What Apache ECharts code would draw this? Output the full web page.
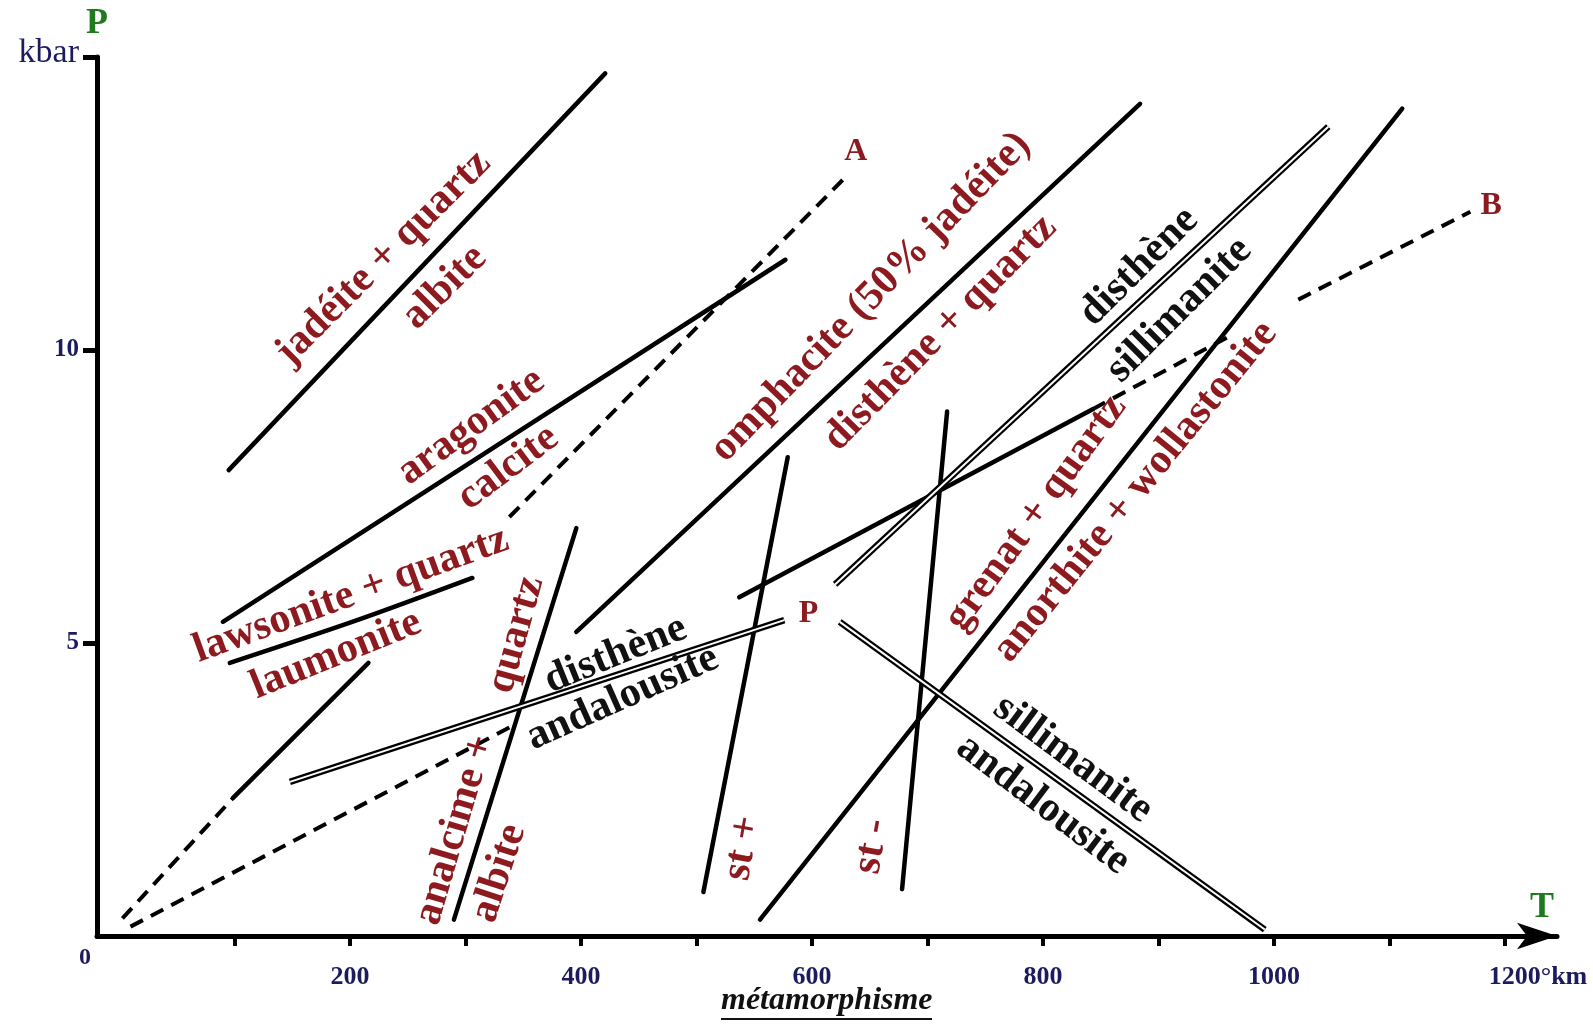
<!DOCTYPE html>
<html><head><meta charset="utf-8">
<script src="https://cdn.jsdelivr.net/npm/echarts@6/dist/echarts.min.js"></script>
<style>html,body{margin:0;padding:0;background:#fff}#c{width:1593px;height:1035px}</style>
</head><body><div id="c"></div>
<script>
// ---- axis ticks / labels ----
const xTickValues = [100,200,300,400,500,600,700,800,900,1000,1100,1200];
const xLabelValues = [200,400,600,800,1000,1200];
const yTickValues = [5,10,15];

// ---- reaction curves [T (°C), P (kbar)] ----
const jadeiteAlbite      = [[95,7.95],[421,14.72]];
const aragoniteCalcite   = [[90,5.36],[577,11.54]];
const lineA              = [[338,7.15],[631,12.99]];
const lawsoniteLaumonite = [[96,4.66],[205,5.38],[306,6.11]];
const laumoniteDashed    = [[3,0.30],[99,2.36]];
const laumoniteSolid     = [[99,2.36],[216,4.66]];
const lowDashed          = [[10,0.16],[341,3.59]];
const analcimeAlbite     = [[290,0.28],[396,6.96]];
const disAnd             = [[148,2.63],[576,5.39]];
const omphacite          = [[396,5.19],[884,14.20]];
const stPlus             = [[506,0.75],[579,8.17]];
const grenatAnorthite    = [[555,0.28],[1111,14.12]];
const stMinus            = [[678,0.80],[717,8.95]];
const disSil             = [[620,6.00],[1047,13.81]];
const silAnd             = [[624,5.36],[992,0.11]];
const lineBsolid         = [[537,5.78],[843,8.99]];
const lineBdash1         = [[843,8.99],[962,10.24]];
const lineBdash2         = [[1021,10.86],[1170,12.36]];

// ---- annotations: text, [T, P], angle ----
const redLabels = [
  ['jadéite + quartz', [229,11.57], 45],
  ['albite', [282,11.07], 45],
  ['aragonite', [305,8.69], 36],
  ['calcite', [337,7.99], 37],
  ['lawsonite + quartz', [201,5.82], 20],
  ['laumonite', [188,4.80], 22],
  ['omphacite (50% jadéite)', [651,10.90], 46],
  ['disthène + quartz', [711,10.29], 45.5],
  ['grenat + quartz', [794,7.22], 54],
  ['anorthite + wollastonite', [880,7.58], 51],
  ['analcime +', [291,1.81], 73.5],
  ['quartz', [344,5.14], 74.5],
  ['albite', [329,1.07], 72],
  ['st +', [540,1.50], 80],
  ['st -', [652,1.53], 80]
];
const blackLabels = [
  ['disthène', [883,11.42], 45],
  ['sillimanite', [918,10.68], 45],
  ['disthène', [430,4.80], 22],
  ['andalousite', [436,4.06], 24],
  ['sillimanite', [826,3.02], -36.5],
  ['andalousite', [800,2.24], -37]
];
const pointLabels = [
  ['A', [638,13.38]],
  ['B', [1188,12.46]],
  ['P', [597,5.50]]
];

const SERIF = "'Liberation Serif','Times New Roman',serif";
const RED = '#8c1a1e';
const NAVY = '#1b1b5e';
const GREEN = '#1f7a1f';

function solid(data, smooth){
  return {type:'line', data, symbol:'none', smooth: smooth||false, silent:true, z:3,
    lineStyle:{color:'#000', width:4.5, cap:'round'}};
}
function dashed(data){
  return {type:'line', data, symbol:'none', silent:true, z:3,
    lineStyle:{color:'#000', width:4, type:[14,9]}};
}
function double(data){
  return [
    {type:'line', data, symbol:'none', silent:true, z:3, lineStyle:{color:'#000', width:6.5}},
    {type:'line', data, symbol:'none', silent:true, z:4, lineStyle:{color:'#fff', width:2}}
  ];
}
function labelSeries(list, color, size){
  return {type:'scatter', symbolSize:1, silent:true, z:10,
    itemStyle:{color:'transparent', opacity:1},
    data: list.map(l => ({value:l[1], label:{formatter:l[0], rotate:l[2]||0}})),
    label:{show:true, position:'inside', color, opacity:1, textBorderWidth:0,
      fontFamily:SERIF, fontWeight:'bold',
      fontSize:size, align:'center', verticalAlign:'middle'}};
}

const series = [
  solid(jadeiteAlbite), solid(aragoniteCalcite), dashed(lineA),
  solid(lawsoniteLaumonite, 0.3), dashed(laumoniteDashed), solid(laumoniteSolid),
  dashed(lowDashed), solid(analcimeAlbite), ...double(disAnd), solid(omphacite),
  solid(stPlus), solid(grenatAnorthite), solid(stMinus), ...double(disSil), ...double(silAnd),
  solid(lineBsolid), dashed(lineBdash1), dashed(lineBdash2),
  labelSeries(redLabels, RED, 42),
  labelSeries(blackLabels, '#111', 42),
  labelSeries(pointLabels, RED, 32)
];

const chart = echarts.init(document.getElementById('c'));
chart.setOption({
  animation:false,
  backgroundColor:'#fff',
  grid:{left:97, right:36, top:57, bottom:99, containLabel:false},
  xAxis:{type:'value', min:-19, max:1245,
    splitLine:{show:false},
    axisLine:{show:true, onZero:false, lineStyle:{color:'#000', width:5}, symbol:['none','arrow'], symbolSize:[20,40]},
    axisTick:{show:true, customValues:xTickValues, length:10, lineStyle:{color:'#000', width:4}},
    axisLabel:{show:true, customValues:xLabelValues, margin:28,
      formatter: v => v === 1200 ? '{k|1200°km}' : '{n|' + v + '}',
      rich:{
        n:{fontFamily:SERIF, fontWeight:'bold', fontSize:26, color:NAVY},
        k:{fontFamily:SERIF, fontWeight:'bold', fontSize:26, color:NAVY, padding:[0,0,0,66]}
      }}
  },
  yAxis:{type:'value', min:0, max:15,
    splitLine:{show:false},
    axisLine:{show:true, onZero:false, lineStyle:{color:'#000', width:5}},
    axisTick:{show:true, customValues:yTickValues, length:14, lineStyle:{color:'#000', width:5}},
    axisLabel:{show:true, customValues:yTickValues, margin:18,
      formatter: v => v === 15 ? '{k|kbar}' : '{n|' + v + '}',
      rich:{
        n:{fontFamily:SERIF, fontWeight:'bold', fontSize:25, color:NAVY},
        k:{fontFamily:SERIF, fontSize:34, color:NAVY, padding:[0,0,8,0]}
      }}
  },
  series,
  graphic:[
    {type:'text', left:86, top:6, style:{text:'P', fill:GREEN, font:"bold 36px 'Liberation Serif', serif"}},
    {type:'text', left:1530, top:890, style:{text:'T', fill:GREEN, font:"bold 36px 'Liberation Serif', serif"}},
    {type:'text', left:79, top:946, style:{text:'0', fill:NAVY, font:"bold 24px 'Liberation Serif', serif"}},
    {type:'text', left:721, top:985, style:{text:'métamorphisme', fill:'#111', font:"italic bold 32px 'Liberation Serif', serif"}},
    {type:'line', shape:{x1:721, y1:1019, x2:932, y2:1019}, style:{stroke:'#111', lineWidth:2}}
  ]
});
</script></body></html>
